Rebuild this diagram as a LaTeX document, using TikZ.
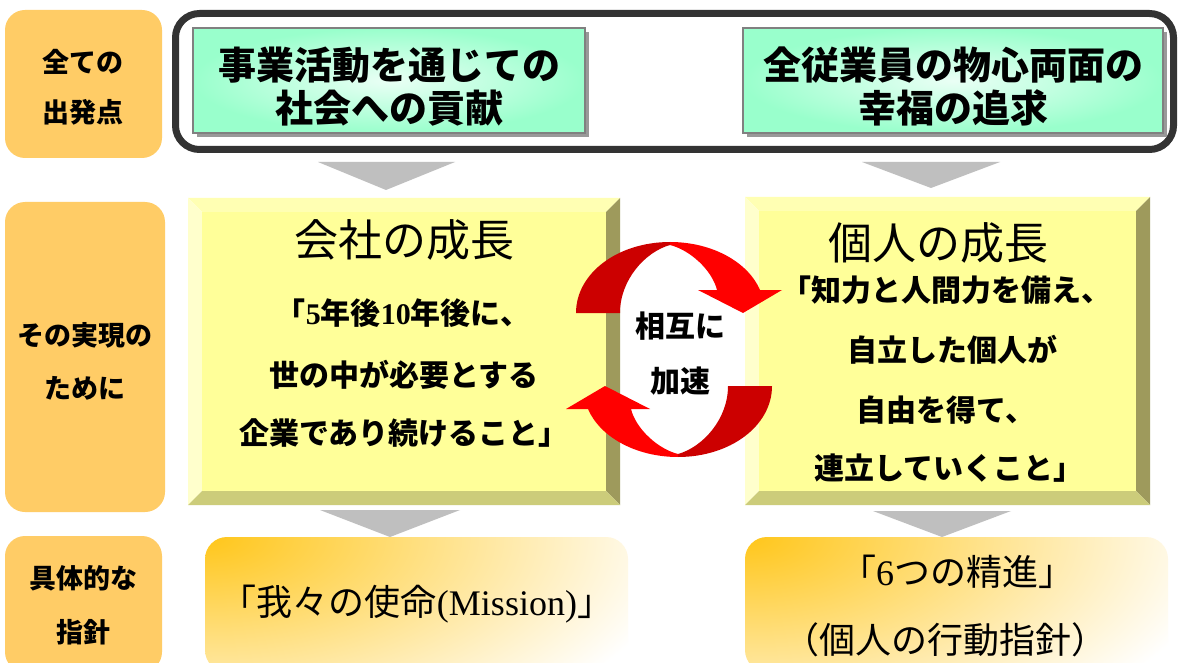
\documentclass[tikz,border=0pt]{standalone}
\usepackage{fontspec}
\newfontfamily\jp{Noto Sans CJK JP}
\newfontfamily\lat{Liberation Serif}
\definecolor{lorange}{HTML}{FFCC66}
\definecolor{mint}{HTML}{99FFCC}
\definecolor{mintc}{HTML}{EAFFF5}
\definecolor{framec}{HTML}{333333}
\definecolor{tgray}{HTML}{BFBFBF}
\definecolor{yface}{HTML}{FFFF99}
\definecolor{ytop}{HTML}{FFFFB3}
\definecolor{yleft}{HTML}{FFFFCC}
\definecolor{yright}{HTML}{9E9A5C}
\definecolor{ybot}{HTML}{CCCC7A}
\definecolor{dred}{HTML}{CC0000}
\definecolor{bred}{HTML}{FF0000}
\definecolor{goldc}{HTML}{FFC61A}
\begin{document}
\begin{tikzpicture}[x=1pt,y=-1pt,
  lbl/.style={font=\jp\bfseries\fontsize{27}{30}\selectfont, inner sep=0pt},
  grn/.style={font=\jp\bfseries\fontsize{38}{40}\selectfont, inner sep=0pt},
  ttl/.style={font=\jp\fontsize{44}{46}\selectfont, inner sep=0pt},
  body/.style={font=\jp\bfseries\fontsize{30}{32}\selectfont, inner sep=0pt},
  btm/.style={font=\jp\fontsize{36}{38}\selectfont, inner sep=0pt},
  lbox/.style={fill=lorange, rounded corners=20pt},
  tri/.style={fill=tgray},
  gbox/.style={draw=gray, line width=1.2pt, inner color=mintc, outer color=mint},
  gshadow/.style={fill=gray!80},
  obox/.style={rounded corners=22pt, path picture={\shade[inner color=goldc, outer color=white] (path picture bounding box.north west) ellipse [x radius=480pt, y radius=230pt];}},
]
\useasboundingbox (0,0) rectangle (1181,663);
\fill[white] (0,0) rectangle (1181,663);

% left labels
\fill[lbox] (5,10) rectangle (162,158);
\fill[lbox] (5,202) rectangle (165,512);
\fill[lbox] (5,536) rectangle (162,672);
\node[lbl] (l1a) at (83,62) {全ての};
\node[lbl] (l1b) at (83,112) {出発点};
\node[lbl] (l2a) at (85,335) {その実現の};
\node[lbl] (l2b) at (85,388) {ために};
\node[lbl] (l3a) at (83,578) {具体的な};
\node[lbl] (l3b) at (83,632) {指針};

% top frame
\draw[line width=7pt, draw=framec, rounded corners=24pt] (175.5,13.5) rectangle (1173.5,149.5);
\fill[gshadow] (197,32) rectangle (589,137);
\shade[gbox] (193,28) rectangle (585,133);
\fill[gshadow] (747,32) rectangle (1167,137);
\shade[gbox] (743,28) rectangle (1163,133);
\node[grn] (g1a) at (389,65) {事業活動を通じての};
\node[grn] (g1b) at (389,108) {社会への貢献};
\node[grn] (g2a) at (953,65) {全従業員の物心両面の};
\node[grn] (g2b) at (953,108) {幸福の追求};

% gray triangles
\fill[tri] (318,162) -- (455,162) -- (386,190) -- cycle;
\fill[tri] (862,162) -- (1000,162) -- (931,188) -- cycle;
\fill[tri] (320,510) -- (460,510) -- (390,537) -- cycle;
\fill[tri] (873,511) -- (1011,511) -- (942,537) -- cycle;

% left bevel box
\fill[ytop] (188,198) -- (620,198) -- (606,212) -- (202,212) -- cycle;
\fill[yleft] (188,198) -- (202,212) -- (202,491) -- (188,505) -- cycle;
\fill[yright] (620,198) -- (620,505) -- (606,491) -- (606,212) -- cycle;
\fill[ybot] (188,505) -- (620,505) -- (606,491) -- (202,491) -- cycle;
\fill[yface] (202,212) rectangle (606,491);
% right bevel box
\fill[ytop] (745,197) -- (1150,197) -- (1136,211) -- (759,211) -- cycle;
\fill[yleft] (745,197) -- (759,211) -- (759,491) -- (745,505) -- cycle;
\fill[yright] (1150,197) -- (1150,505) -- (1136,491) -- (1136,211) -- cycle;
\fill[ybot] (745,505) -- (1150,505) -- (1136,491) -- (759,491) -- cycle;
\fill[yface] (759,211) rectangle (1136,491);

\node[ttl] (t1) at (404,240) {会社の成長};
\node[body] (c1) at (403,313) {「{\lat\bfseries 5}年後{\lat\bfseries 10}年後に、};
\node[body] (c2) at (404,375) {世の中が必要とする};
\node[body] (c3) at (404,433) {企業であり続けること」};
\node[ttl] (t2) at (938,243) {個人の成長};
\node[body] (p1) at (946,290) {「知力と人間力を備え、};
\node[body] (p2) at (952,350) {自立した個人が};
\node[body] (p3) at (946,410) {自由を得て、};
\node[body] (p4) at (949,468) {連立していくこと」};

% circular arrows
\fill[dred] (576,313) .. controls (576,273) and (618,242) .. (670,242) -- (670,245) .. controls (645,252) and (620,280) .. (620,313) -- cycle;
\fill[bred] (670,242) .. controls (712,242) and (748,262) .. (760,290) -- (782,290) -- (743,313) -- (698,290) -- (717,290) .. controls (712,270) and (690,250) .. (670,245) -- cycle;
\begin{scope}[rotate around={180:(674,349.5)}]
\fill[dred] (576,313) .. controls (576,273) and (618,242) .. (670,242) -- (670,245) .. controls (645,252) and (620,280) .. (620,313) -- cycle;
\fill[bred] (670,242) .. controls (712,242) and (748,262) .. (760,290) -- (782,290) -- (743,313) -- (698,290) -- (717,290) .. controls (712,270) and (690,250) .. (670,245) -- cycle;
\end{scope}
\node[body] (m1) at (680,326) {相互に};
\node[body] (m2) at (680,381) {加速};

% bottom boxes
\path[obox] (205,537) rectangle (628,672);
\path[obox] (745,537) rectangle (1168,672);
\node[btm] (b1) at (417,604) {「我々の使命{\lat (Mission)}」};
\node[btm] (b2) at (957,572) {「{\lat 6}つの精進」};
\node[btm] (b3) at (945,640) {（個人の行動指針）};
\end{tikzpicture}
\end{document}
